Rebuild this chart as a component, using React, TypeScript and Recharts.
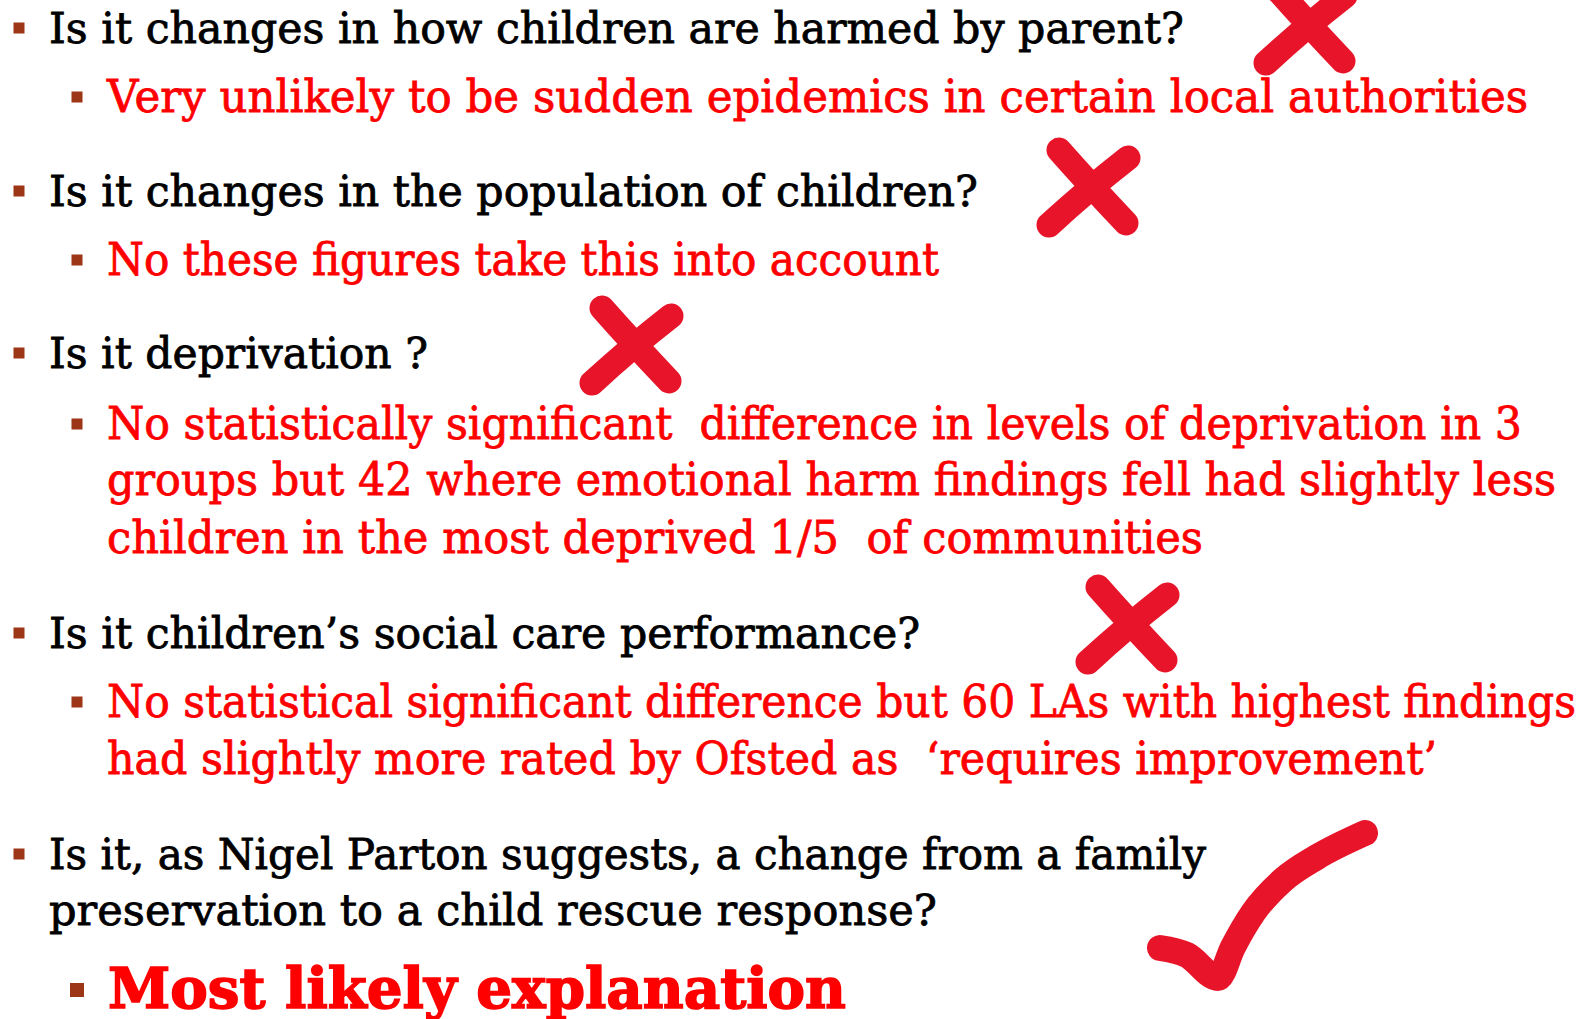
import { ComposedChart, Scatter, XAxis, YAxis } from 'recharts';

const W = 1589;
const H = 1019;

// slide text, top to bottom
const slideLines = [
    'Is it changes in how children are harmed by parent?',
    'Very unlikely to be sudden epidemics in certain local authorities',
    'Is it changes in the population of children?',
    'No these figures take this into account',
    'Is it deprivation ?',
    'No statistically significant  difference in levels of deprivation in 3',
    'groups but 42 where emotional harm findings fell had slightly less',
    'children in the most deprived 1/5  of communities',
    'Is it children\u2019s social care performance?',
    'No statistical significant difference but 60 LAs with highest findings',
    'had slightly more rated by Ofsted as  \u2018requires improvement\u2019',
    'Is it, as Nigel Parton suggests, a change from a family',
    'preservation to a child rescue response?',
    'Most likely explanation',
];
// 0 = question (black), 1 = answer (red)
const lineLevel = [0, 1, 0, 1, 0, 1, 1, 1, 0, 1, 1, 0, 0, 1];
const lineBaselines = [43, 112, 206, 275, 368, 439, 495, 553, 648, 717, 774, 869, 925, 1008];
const bulletRows = [0, 1, 2, 3, 4, 5, 8, 9, 11, 13];
const boldRow = 13;

// hand drawn marks
const crossX = [1306, 1089, 632, 1128];
const crossY = [26, 188, 346, 625];
const tickX = [1160, 1187, 1218, 1233, 1253, 1283, 1317, 1365];
const tickY = [948, 955, 978, 947, 913, 880, 857, 833];

// layout
const indentX = [49, 107];
const lineWidths = [1135, 1421, 929, 832, 379, 1415, 1449, 1096, 871, 1469, 1330, 1157, 888, 738];
const bulletX = [19, 77];
const RED = '#FF0000';
const MARK = '#E8152A';
const BULLET = '#9C3616';
const FONT = '"DejaVu Serif", serif';

const textData = slideLines.map((text, i) => ({
    x: i === boldRow ? 108 : indentX[lineLevel[i]],
    y: lineBaselines[i],
    i,
}));

const bulletData = bulletRows.map(r => ({
    x: bulletX[lineLevel[r]],
    y: lineBaselines[r] - (r === boldRow ? 18 : 15),
    r,
}));

const crossData = crossX.map((x, i) => ({ x, y: crossY[i] }));
const tickData = tickX.map((x, i) => ({ x, y: tickY[i] }));

function TextLine(props: any) {
    const { cx, cy, payload } = props;
    const i = payload.i;
    const bold = i === boldRow;
    const color = lineLevel[i] === 0 ? '#000' : RED;
    return (
        <text
            x={cx}
            y={cy}
            fontFamily={FONT}
            fontSize={bold ? 56 : lineLevel[i] === 0 ? 43 : 44}
            fontWeight={bold ? 'bold' : 'normal'}
            fill={color}
            stroke={color}
            strokeWidth={bold ? 1.6 : 0.8}
            textLength={lineWidths[i]}
            lengthAdjust="spacingAndGlyphs"
            style={{ whiteSpace: 'pre' }}
        >
            {slideLines[i]}
        </text>
    );
}

function Bullet(props: any) {
    const { cx, cy, payload } = props;
    const s = payload.r === boldRow ? 14 : 11;
    return <rect x={cx - s / 2} y={cy - s / 2} width={s} height={s} fill={BULLET} />;
}

function Cross(props: any) {
    const { cx, cy } = props;
    const d =
        `M${cx - 30},${cy - 38} Q${cx},${cy - 4} ${cx + 37},${cy + 35} ` +
        `M${cx - 40},${cy + 37} Q${cx - 2},${cy + 2} ${cx + 39},${cy - 30}`;
    return (
        <path d={d} fill="none" stroke={MARK} strokeWidth={25} strokeLinecap="round" strokeLinejoin="round" />
    );
}

export default function App() {
    return (
        <div style={{ position: 'absolute', left: 0, top: 0, width: W, height: H, background: '#fff' }}>
            <ComposedChart width={W} height={H} margin={{ top: 0, right: 0, bottom: 0, left: 0 }}>
                <XAxis type="number" dataKey="x" domain={[0, W]} hide allowDataOverflow />
                <YAxis type="number" dataKey="y" domain={[0, H]} reversed hide allowDataOverflow />
                <Scatter data={bulletData} shape={Bullet} isAnimationActive={false} />
                <Scatter data={textData} shape={TextLine} isAnimationActive={false} />
                <Scatter data={crossData} shape={Cross} isAnimationActive={false} />
                <Scatter
                    data={tickData}
                    shape={() => <g />}
                    fill={MARK}
                    line={{ stroke: MARK, strokeWidth: 26, strokeLinecap: 'round', strokeLinejoin: 'round' }}
                    lineJointType="monotoneX"
                    isAnimationActive={false}
                />
            </ComposedChart>
        </div>
    );
}
